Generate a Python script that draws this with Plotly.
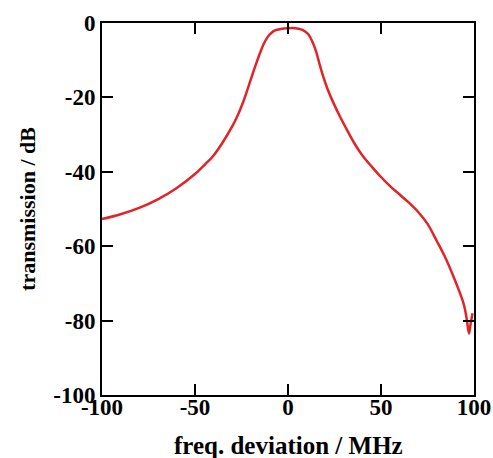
import plotly.graph_objects as go

# frequency deviation (MHz) and transmission (dB)
freq = [-100, -90, -80, -70, -60, -50, -45, -40, -35, -30, -27, -24, -21, -18,
        -15, -13, -11, -9, -7, -4, 0, 4, 7, 9, 11, 13, 15, 17, 19, 21, 24, 28,
        32, 36, 40, 45, 50, 55, 60, 65, 70, 75, 80, 85, 89, 92, 94.5, 96, 97.3,
        98.2, 99.2]
trans = [-52.7, -51.4, -49.7, -47.4, -44.4, -40.6, -38.2, -35.6, -32.0, -27.8,
         -24.8, -21.1, -16.7, -12.2, -8.0, -5.6, -3.8, -2.7, -2.0, -1.6, -1.4,
         -1.4, -1.7, -2.2, -3.1, -4.9, -7.5, -11.1, -14.5, -17.4, -21.0, -25.2,
         -29.0, -32.6, -35.6, -38.6, -41.4, -43.9, -46.1, -48.3, -50.8, -54.0,
         -58.6, -63.5, -68.2, -72.0, -75.6, -79.3, -83.5, -80.8, -78.0]

x_ticks = [-100, -50, 0, 50, 100]
y_ticks = [-100, -80, -60, -40, -20, 0]
x_title = "freq. deviation / MHz"
y_title = "transmission / dB"

fig = go.Figure()
fig.add_trace(go.Scatter(x=freq, y=trans, mode="lines",
                         line=dict(color="#e02428", width=2.5, shape="spline", smoothing=1.0),
                         showlegend=False, hoverinfo="skip"))

tick_font = dict(family="Liberation Serif", size=23, color="black", weight="bold")
axis_common = dict(showgrid=False, zeroline=False, showline=True, linecolor="black",
                   linewidth=2, mirror="ticks", ticks="inside", ticklen=11,
                   tickwidth=2, tickcolor="black", tickfont=tick_font,
                   ticklabeloverflow="allow")

fig.update_xaxes(range=[-100, 100], tickvals=x_ticks, ticktext=[str(v) for v in x_ticks],
                 ticklabelstandoff=-10, **axis_common)
fig.update_yaxes(range=[-100, 0], tickvals=y_ticks, ticktext=[str(v) for v in y_ticks],
                 title=dict(text="<b>" + y_title + "</b>",
                            font=dict(family="Liberation Serif", size=22, color="black"),
                            standoff=12),
                 **axis_common)

# x-axis title placed as an annotation so it can sit near the bottom edge
fig.add_annotation(text="<b>" + x_title + "</b>", xref="paper", yref="paper",
                   x=0.5, y=-0.137, xanchor="center", yanchor="middle",
                   showarrow=False,
                   font=dict(family="Liberation Serif", size=25, color="black"))

fig.update_layout(width=493, height=458,
                  margin=dict(l=102, r=19, t=23, b=63, autoexpand=False),
                  plot_bgcolor="white", paper_bgcolor="white",
                  font=dict(family="Liberation Serif", size=22, color="black"))

# remove the default 8px page margin so the figure fills the window exactly
fig.write_html("out.html", config={"displayModeBar": False},
               post_script="document.body.style.margin='0';document.body.style.overflow='hidden';")
